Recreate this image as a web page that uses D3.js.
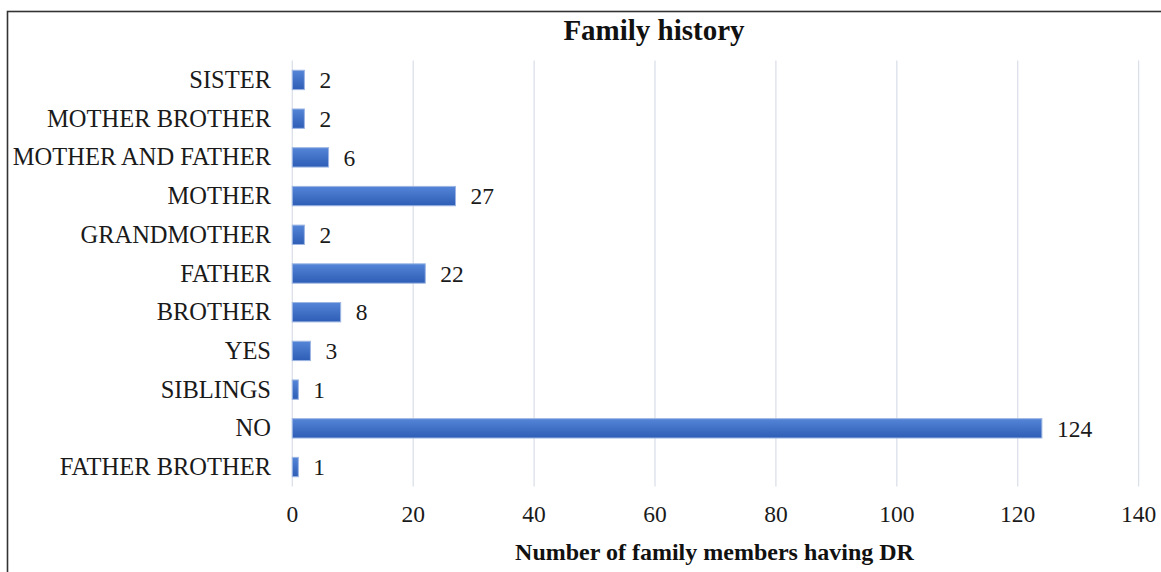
<!DOCTYPE html>
<html>
<head>
<meta charset="utf-8">
<script src="https://cdn.jsdelivr.net/npm/d3@7"></script>
<style>
  html, body { margin: 0; padding: 0; background: #fff; }
  svg { display: block; }
</style>
</head>
<body>
<svg id="chart" width="1161" height="572"></svg>
<script>
const categories = ["SISTER", "MOTHER BROTHER", "MOTHER AND FATHER", "MOTHER", "GRANDMOTHER", "FATHER", "BROTHER", "YES", "SIBLINGS", "NO", "FATHER BROTHER"];
const values = [2, 2, 6, 27, 2, 22, 8, 3, 1, 124, 1];
const xTicks = [0, 20, 40, 60, 80, 100, 120, 140];
const title = "Family history";
const xLabel = "Number of family members having DR";

const svg = d3.select("#chart");
const font = "'Liberation Serif', 'Times New Roman', serif";

const defs = svg.append("defs");
const grad = defs.append("linearGradient").attr("id", "barGrad")
  .attr("x1", 0).attr("y1", 0).attr("x2", 0).attr("y2", 1);
grad.append("stop").attr("offset", "0%").attr("stop-color", "#5585d7");
grad.append("stop").attr("offset", "100%").attr("stop-color", "#2d5db5");

// frame
svg.append("rect").attr("x", 7.5).attr("y", 11.5).attr("width", 1165).attr("height", 575)
  .attr("fill", "none").attr("stroke", "#333").attr("stroke-width", 1.6);

const x = d3.scaleLinear().domain([0, 140]).range([292.3, 1138.6]);
const y = d3.scaleBand().domain(categories).range([60.6, 486.4]).paddingInner(0.5).paddingOuter(0.25);

// gridlines
svg.append("g").selectAll("line").data(xTicks).join("line")
  .attr("x1", d => x(d)).attr("x2", d => x(d))
  .attr("y1", 60.6).attr("y2", 486.4)
  .attr("stroke", "#dbe0e9").attr("stroke-width", 1.3);

// x tick labels
svg.append("g").selectAll("text").data(xTicks).join("text")
  .attr("x", d => x(d)).attr("y", 522)
  .attr("text-anchor", "middle")
  .attr("font-family", font).attr("font-size", 23.5).attr("fill", "#1a1a1a")
  .text(d => d);

// bars
svg.append("g").selectAll("rect").data(values).join("rect")
  .attr("x", x(0))
  .attr("y", (d, i) => y(categories[i]))
  .attr("width", d => x(d) - x(0))
  .attr("height", y.bandwidth())
  .attr("fill", "url(#barGrad)")
  .attr("stroke", "#9cb5e3").attr("stroke-width", 1);

// value labels
svg.append("g").selectAll("text").data(values).join("text")
  .attr("x", d => x(d) + 15)
  .attr("y", (d, i) => y(categories[i]) + y.bandwidth() / 2)
  .attr("dy", "0.35em")
  .attr("font-family", font).attr("font-size", 23.5).attr("fill", "#1a1a1a")
  .text(d => d);

// category labels
svg.append("g").selectAll("text").data(categories).join("text")
  .attr("x", 271)
  .attr("y", d => y(d) + y.bandwidth() / 2)
  .attr("dy", "0.33em")
  .attr("text-anchor", "end")
  .attr("font-family", font).attr("font-size", 24.5).attr("fill", "#1a1a1a")
  .text(d => d);

// title
svg.append("text").attr("x", 654).attr("y", 40)
  .attr("text-anchor", "middle")
  .attr("font-family", font).attr("font-size", 29).attr("font-weight", "bold").attr("fill", "#111")
  .text(title);

// x axis label
svg.append("text").attr("x", 714.5).attr("y", 560)
  .attr("text-anchor", "middle")
  .attr("font-family", font).attr("font-size", 24).attr("font-weight", "bold").attr("fill", "#111")
  .text(xLabel);
</script>
</body>
</html>
